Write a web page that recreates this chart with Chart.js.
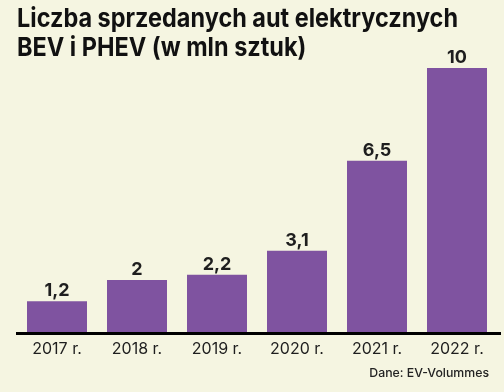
<!DOCTYPE html>
<html>
<head>
<meta charset="utf-8">
<script src="https://cdn.jsdelivr.net/npm/chart.js@4"></script>
<style>
  html, body { margin: 0; padding: 0; background: #f5f5e1; }
  #wrap { width: 504px; height: 392px; }
</style>
</head>
<body>
<div id="wrap"><canvas id="evChart" width="504" height="392"></canvas></div>
<script>
const years = ['2017 r.', '2018 r.', '2019 r.', '2020 r.', '2021 r.', '2022 r.'];
const sales = [1.2, 2, 2.2, 3.1, 6.5, 10];
const titleLines = ['Liczba sprzedanych aut elektrycznych', 'BEV i PHEV (w mln sztuk)'];
const source = 'Dane: EV-Volummes';

const barColor = '#7f53a0';
const textColor = '#1e1e1e';

// title, value labels above bars, baseline and source note
const extras = {
  id: 'extras',
  afterDatasetsDraw(chart) {
    const ctx = chart.ctx;
    const meta = chart.getDatasetMeta(0);
    ctx.save();

    // title, a bit condensed like the original typeface
    ctx.fillStyle = '#111';
    ctx.font = 'bold 26px Inter, sans-serif';
    ctx.textAlign = 'left';
    ctx.textBaseline = 'alphabetic';
    const f = 441 / ctx.measureText(titleLines[0]).width;
    ctx.save();
    ctx.translate(17, 0);
    ctx.scale(f, 1);
    ctx.fillText(titleLines[0], 0, 27);
    ctx.fillText(titleLines[1], 0, 56);
    ctx.restore();

    ctx.fillStyle = textColor;
    ctx.font = 'bold 18px Inter, sans-serif';
    ctx.textAlign = 'center';
    meta.data.forEach((bar, i) => {
      ctx.fillText(String(sales[i]).replace('.', ','), bar.x, bar.y - 5);
    });

    const a = chart.chartArea;
    ctx.strokeStyle = '#000';
    ctx.lineWidth = 3;
    ctx.beginPath();
    ctx.moveTo(16, a.bottom + 0.5);
    ctx.lineTo(501, a.bottom + 0.5);
    ctx.stroke();

    ctx.fillStyle = '#222';
    ctx.font = '500 12.3px Inter, sans-serif';
    ctx.textAlign = 'right';
    ctx.textBaseline = 'middle';
    ctx.fillText(source, 489, 373);
    ctx.restore();
  }
};

new Chart(document.getElementById('evChart').getContext('2d'), {
  type: 'bar',
  data: {
    labels: years,
    datasets: [{
      data: sales,
      backgroundColor: barColor,
      barPercentage: 0.75,
      categoryPercentage: 1
    }]
  },
  options: {
    responsive: false,
    animation: false,
    layout: { padding: { left: 17, right: 7, top: 68, bottom: 0 } },
    scales: {
      x: {
        grid: { display: false, drawTicks: false },
        border: { display: false },
        ticks: {
          color: textColor,
          font: { family: 'Inter, sans-serif', size: 16 },
          padding: 7
        },
        afterFit(scale) { scale.height = 59; }
      },
      y: { display: false, min: 0, max: 10 }
    },
    plugins: {
      legend: { display: false },
      tooltip: { enabled: false },
      title: { display: false }
    }
  },
  plugins: [extras]
});
</script>
</body>
</html>
